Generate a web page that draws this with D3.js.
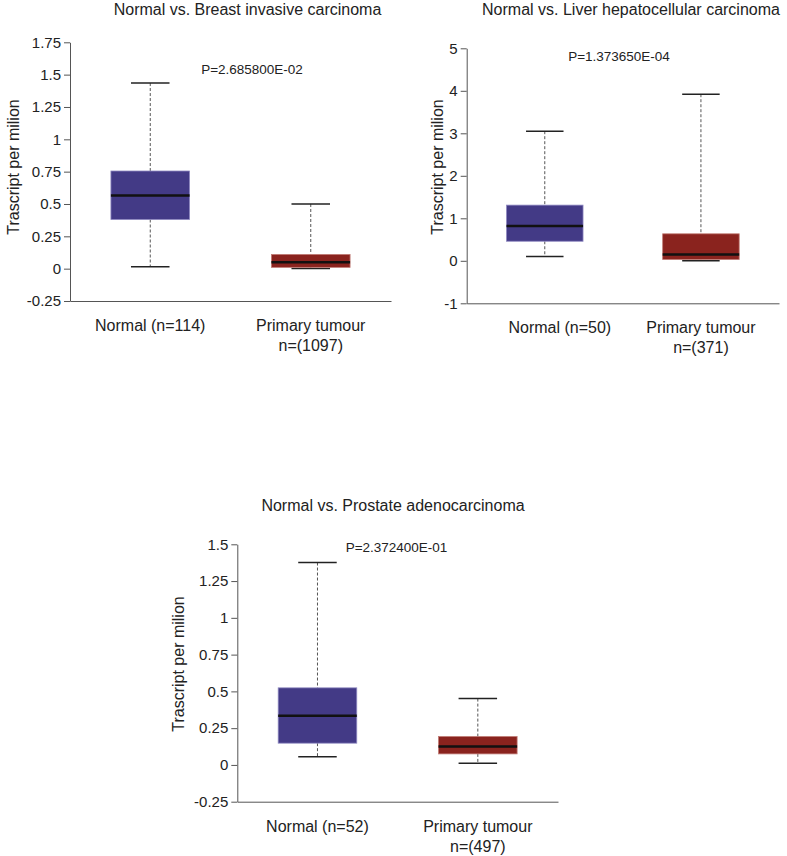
<!DOCTYPE html>
<html><head><meta charset="utf-8">
<script src="https://cdn.jsdelivr.net/npm/d3@7"></script>
<style>
html,body{margin:0;padding:0;background:#fff;}
svg{display:block;font-family:"Liberation Sans",Arial,sans-serif;}
</style></head>
<body>
<svg id="chart" width="787" height="856"></svg>
<script>
// ---- data ----
const titles = ["Normal vs. Breast invasive carcinoma", "Normal vs. Liver hepatocellular carcinoma", "Normal vs. Prostate adenocarcinoma"];
const pValues = ["P=2.685800E-02", "P=1.373650E-04", "P=2.372400E-01"];
const categories = ["Normal", "Primary tumour"];
const normalLabels = ["Normal (n=114)", "Normal (n=50)", "Normal (n=52)"];
const tumourLabels = [["Primary tumour", "n=(1097)"], ["Primary tumour", "n=(371)"], ["Primary tumour", "n=(497)"]];
// [whisker low, Q1, median, Q3, whisker high]
const breastNormal = [0.015, 0.38, 0.566, 0.755, 1.435];
const breastTumour = [0.002, 0.01, 0.05, 0.11, 0.50];
const liverNormal = [0.10, 0.46, 0.82, 1.31, 3.05];
const liverTumour = [0.0, 0.03, 0.15, 0.635, 3.92];
const prostateNormal = [0.056, 0.148, 0.335, 0.524, 1.376];
const prostateTumour = [0.011, 0.075, 0.125, 0.193, 0.451];
const breastTicks = [-0.25, 0, 0.25, 0.5, 0.75, 1, 1.25, 1.5, 1.75];
const liverTicks = [-1, 0, 1, 2, 3, 4, 5];
const prostateTicks = [-0.25, 0, 0.25, 0.5, 0.75, 1, 1.25, 1.5];
const yLabel = "Trascript per milion";

// ---- layout ----
const colors = ["#433a86", "#8a231e"];
const layouts = [
  {x0: 70, x1: 391, yTop: 42.3, yBot: 301, title: [247.5, 15], p: [252, 73.5], ylab: [13, 167], nlabDx: 0},
  {x0: 466.7, x1: 779, yTop: 48.3, yBot: 303.3, title: [631, 15], p: [619, 61], ylab: [437, 167], nlabDx: 15},
  {x0: 237.3, x1: 558, yTop: 544.3, yBot: 801.7, title: [393, 511], p: [396.5, 551.5], ylab: [178, 664], nlabDx: 0}
];
const stats = [[breastNormal, breastTumour], [liverNormal, liverTumour], [prostateNormal, prostateTumour]];
const ticks = [breastTicks, liverTicks, prostateTicks];

const svg = d3.select("#chart");

layouts.forEach((L, i) => {
  const g = svg.append("g");
  const tk = ticks[i];
  const y = d3.scaleLinear().domain([d3.min(tk), d3.max(tk)]).range([L.yBot, L.yTop]);
  const x = d3.scaleBand().domain(categories).range([L.x0, L.x1]).paddingInner(0.51).paddingOuter(0.255);

  // y axis
  const ya = g.append("g").attr("transform", `translate(${L.x0},0)`)
    .call(d3.axisLeft(y).tickValues(tk).tickFormat(d => String(d)).tickSize(6).tickSizeOuter(0).tickPadding(3));
  ya.select(".domain").attr("stroke", "#555").attr("stroke-width", 1);
  ya.selectAll(".tick line").attr("stroke", "#555");
  ya.selectAll(".tick text").attr("font-size", 15).attr("fill", "#222").attr("font-family", "Liberation Sans, Arial, sans-serif");

  // x axis line
  const xa = g.append("g").attr("transform", `translate(0,${L.yBot})`)
    .call(d3.axisBottom(d3.scaleLinear().domain([0, 1]).range([L.x0, L.x1])).tickValues([]).tickSizeOuter(0));
  xa.select(".domain").attr("stroke", "#555").attr("stroke-width", 1);

  // boxes
  stats[i].forEach((s, j) => {
    const cx = x(categories[j]) + x.bandwidth() / 2;
    const bw = x.bandwidth();
    const cw = bw * 0.49;
    // whiskers (dashed)
    g.append("line").attr("x1", cx).attr("x2", cx).attr("y1", y(s[4])).attr("y2", y(s[3]))
      .attr("stroke", "#555").attr("stroke-width", 1).attr("stroke-dasharray", "3,2");
    g.append("line").attr("x1", cx).attr("x2", cx).attr("y1", y(s[1])).attr("y2", y(s[0]))
      .attr("stroke", "#555").attr("stroke-width", 1).attr("stroke-dasharray", "3,2");
    // caps
    [s[0], s[4]].forEach(v => {
      g.append("line").attr("x1", cx - cw / 2).attr("x2", cx + cw / 2).attr("y1", y(v)).attr("y2", y(v))
        .attr("stroke", "#222").attr("stroke-width", 1.5);
    });
    // box
    g.append("rect").attr("x", x(categories[j])).attr("width", bw)
      .attr("y", y(s[3])).attr("height", y(s[1]) - y(s[3]))
      .attr("fill", colors[j]).attr("stroke", j === 0 ? "#8e88c0" : "#c07a74").attr("stroke-width", 0.8);
    // median
    g.append("line").attr("x1", x(categories[j])).attr("x2", x(categories[j]) + bw)
      .attr("y1", y(s[2])).attr("y2", y(s[2])).attr("stroke", "#111").attr("stroke-width", 2.5);
  });

  // x labels
  const cxN = x(categories[0]) + x.bandwidth() / 2;
  const cxT = x(categories[1]) + x.bandwidth() / 2;
  g.append("text").attr("x", cxN + L.nlabDx).attr("y", L.yBot + 30).attr("text-anchor", "middle")
    .attr("font-size", 16).attr("fill", "#222").text(normalLabels[i]);
  tumourLabels[i].forEach((t, k) => {
    g.append("text").attr("x", cxT).attr("y", L.yBot + 30 + k * 20).attr("text-anchor", "middle")
      .attr("font-size", 16).attr("fill", "#222").text(t);
  });

  // title
  g.append("text").attr("x", L.title[0]).attr("y", L.title[1]).attr("text-anchor", "middle")
    .attr("font-size", 16).attr("fill", "#222").text(titles[i]);
  // p value
  g.append("text").attr("x", L.p[0]).attr("y", L.p[1]).attr("text-anchor", "middle")
    .attr("font-size", 13.5).attr("fill", "#222").text(pValues[i]);
  // y label
  g.append("text").attr("transform", `translate(${L.ylab[0] + 6},${L.ylab[1]}) rotate(-90)`)
    .attr("text-anchor", "middle").attr("font-size", 16).attr("fill", "#222").text(yLabel);
});
</script>
</body></html>
